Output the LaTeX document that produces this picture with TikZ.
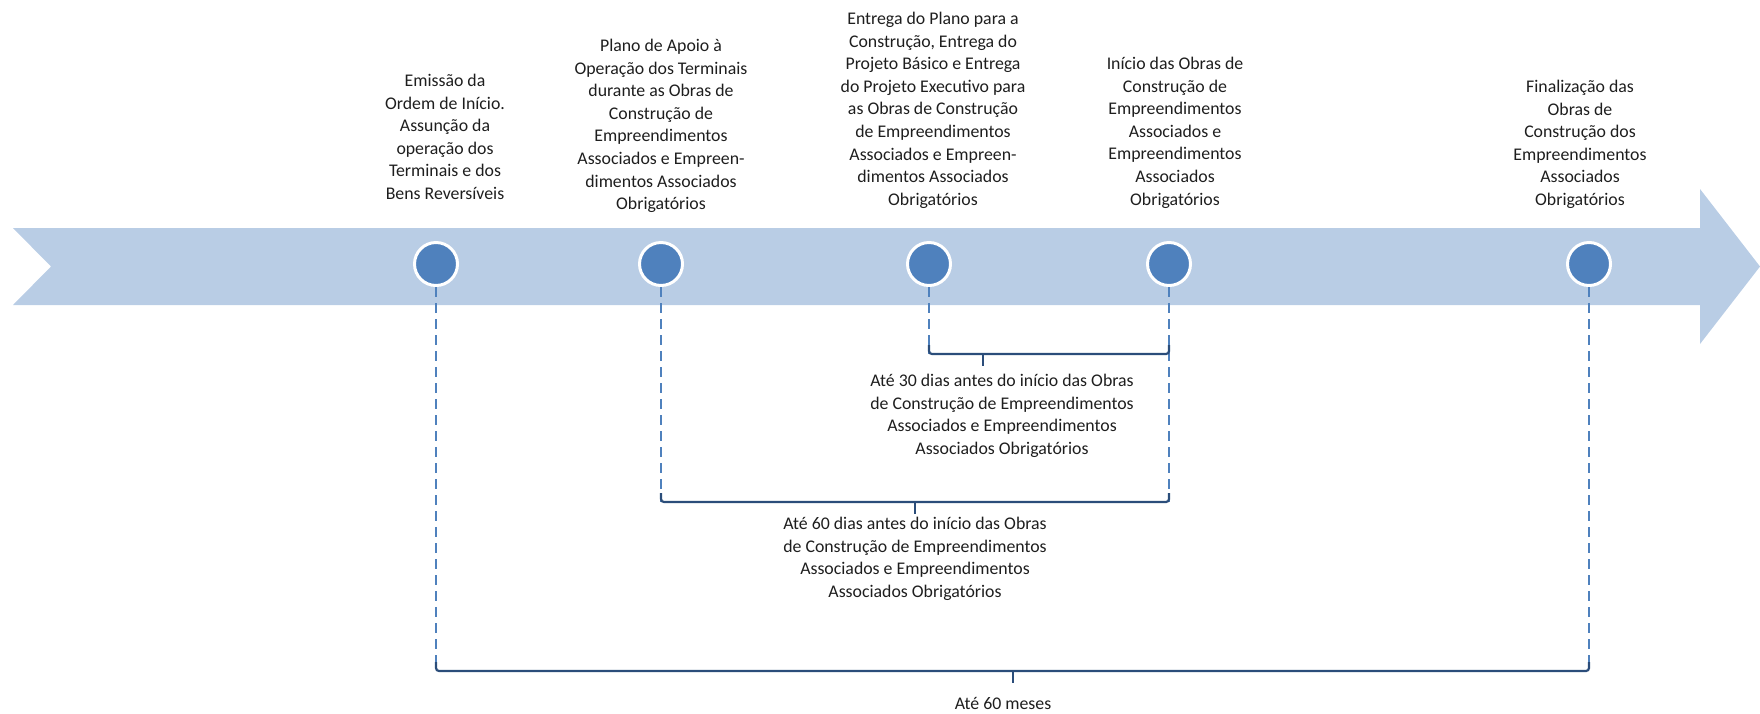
\documentclass[tikz,border=0pt]{standalone}
\usepackage{fontspec}
\setmainfont{Carlito}
\usetikzlibrary{shapes.geometric,calc}
\definecolor{bandc}{HTML}{B9CDE5}
\definecolor{dotc}{HTML}{4F81BD}
\definecolor{brkc}{HTML}{2B4D7A}
\definecolor{txtc}{HTML}{1E1E1E}
\begin{document}
\begin{tikzpicture}[x=1pt,y=-1pt,
  dotn/.style={circle,fill=dotc,draw=white,line width=3pt,minimum size=43pt,inner sep=0pt},
  dashln/.style={draw=dotc,line width=1.8pt,dash pattern=on 10pt off 6pt},
  brk/.style={draw=brkc,line width=2.2pt,rounded corners=3pt},
  lbl/.style={text=txtc,align=center,inner sep=0pt,font=\fontsize{17.8}{22.6}\selectfont},
]
\useasboundingbox (0,0) rectangle (1760,713);
% band arrow
\fill[bandc] (13,228) -- (1700,228) -- (1700,189) -- (1760,266.5) -- (1700,344) -- (1700,305) -- (13,305) -- (51,266.5) -- cycle;
% milestones
\node[dotn] (c1) at (436,264) {};
\node[dotn] (c2) at (661,264) {};
\node[dotn] (c3) at (929,264) {};
\node[dotn] (c4) at (1169,264) {};
\node[dotn] (c5) at (1589,264) {};
% bracket coordinates
\coordinate (b1L) at (929,354);
\coordinate (b1R) at (1169,354);
\coordinate (b1T) at (983,354);
\coordinate (b2L) at (661,502);
\coordinate (b2R) at (1169,502);
\coordinate (b2T) at (915,502);
\coordinate (b3L) at (436,671);
\coordinate (b3R) at (1589,671);
\coordinate (b3T) at (1013,671);
% dashed drop lines
\draw[dashln] (c1.south) -- (b3L);
\draw[dashln] (c2.south) -- (b2L);
\draw[dashln] (c3.south) -- (b1L);
\draw[dashln] (c4.south) -- (b2R);
\draw[dashln] (c5.south) -- (b3R);
% brackets
\draw[brk] ($(b1L)+(0,-9)$) -- (b1L) -- (b1R) -- ($(b1R)+(0,-9)$);
\draw[brk] (b1T) -- ++(0,12);
\draw[brk] ($(b2L)+(0,-9)$) -- (b2L) -- (b2R) -- ($(b2R)+(0,-9)$);
\draw[brk] (b2T) -- ++(0,12);
\draw[brk] ($(b3L)+(0,-9)$) -- (b3L) -- (b3R) -- ($(b3R)+(0,-9)$);
\draw[brk] (b3T) -- ++(0,12);
% top labels
\node[lbl,anchor=north] (t1) at (445,74) {Emissão da\\Ordem de Início.\\Assunção da\\operação dos\\Terminais e dos\\Bens Reversíveis};
\node[lbl,anchor=north] (t2) at (661,39) {Plano de Apoio à\\Operação dos Terminais\\durante as Obras de\\Construção de\\Empreendimentos\\Associados e Empreen-\\dimentos Associados\\Obrigatórios};
\node[lbl,anchor=north] (t3) at (933,12) {Entrega do Plano para a\\Construção, Entrega do\\Projeto Básico e Entrega\\do Projeto Executivo para\\as Obras de Construção\\de Empreendimentos\\Associados e Empreen-\\dimentos Associados\\Obrigatórios};
\node[lbl,anchor=north] (t4) at (1175,57) {Início das Obras de\\Construção de\\Empreendimentos\\Associados e\\Empreendimentos\\Associados\\Obrigatórios};
\node[lbl,anchor=north] (t5) at (1580,80) {Finalização das\\Obras de\\Construção dos\\Empreendimentos\\Associados\\Obrigatórios};
% bottom labels
\node[lbl,anchor=north] (l1) at (1002,374) {Até 30 dias antes do início das Obras\\de Construção de Empreendimentos\\Associados e Empreendimentos\\Associados Obrigatórios};
\node[lbl,anchor=north] (l2) at (915,517) {Até 60 dias antes do início das Obras\\de Construção de Empreendimentos\\Associados e Empreendimentos\\Associados Obrigatórios};
\node[lbl,anchor=north] (l3) at (1003,697) {Até 60 meses};
\end{tikzpicture}
\end{document}
